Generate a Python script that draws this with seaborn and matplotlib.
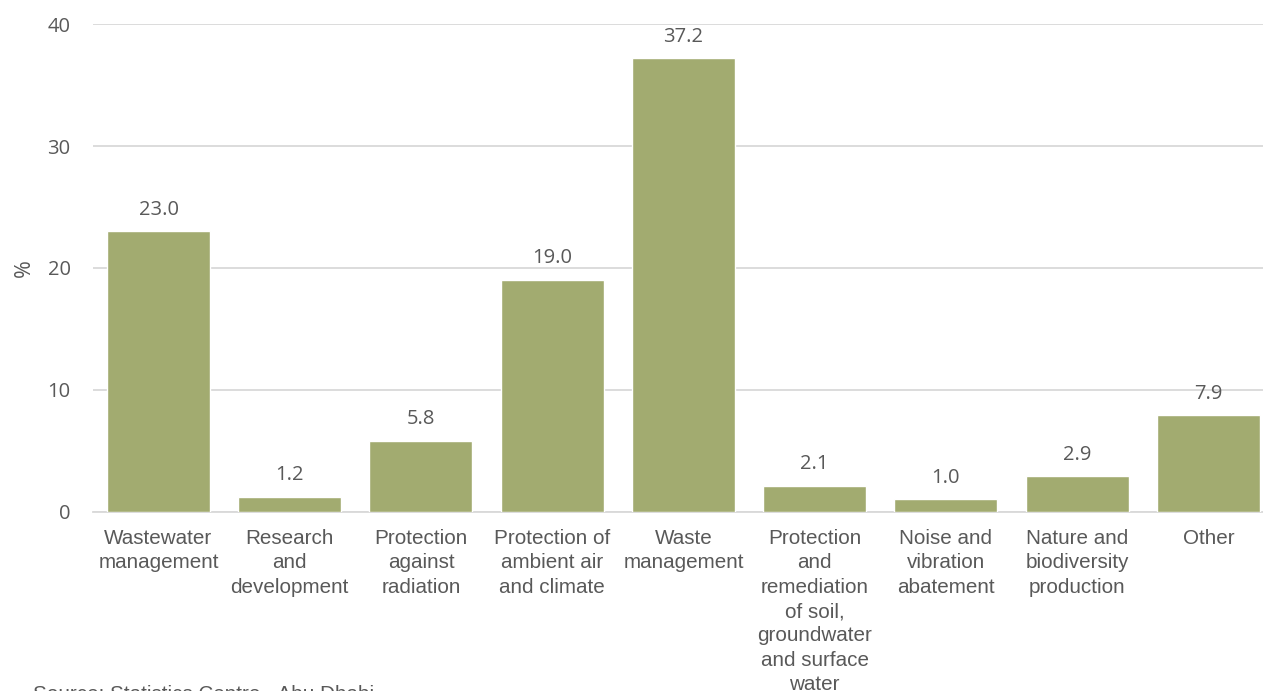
import matplotlib
matplotlib.use("Agg")
import matplotlib.pyplot as plt
import seaborn as sns
import pandas as pd

# Environmental protection expenditure shares by domain (%)
categories = [
    "Wastewater\nmanagement",
    "Research\nand\ndevelopment",
    "Protection\nagainst\nradiation",
    "Protection of\nambient air\nand climate",
    "Waste\nmanagement",
    "Protection\nand\nremediation\nof soil,\ngroundwater\nand surface\nwater",
    "Noise and\nvibration\nabatement",
    "Nature and\nbiodiversity\nproduction",
    "Other",
]
values = [23.0, 1.2, 5.8, 19.0, 37.2, 2.1, 1.0, 2.9, 7.9]
y_ticks = [0, 10, 20, 30, 40]
y_label = "%"
source_note = "Source: Statistics Centre - Abu Dhabi"

BAR_COLOR = "#A2AB70"
TEXT_COLOR = "#595959"
GRID_COLOR = "#D9D9D9"
NUM_FONT = ["Open Sans", "DejaVu Sans"]
CAT_FONT = ["Liberation Sans", "DejaVu Sans"]

sns.set_style("white")
plt.rcParams["font.family"] = CAT_FONT

df = pd.DataFrame({"category": categories, "value": values})

W, H = 1263, 691
fig = plt.figure(figsize=(W / 100, H / 100), dpi=100)
left, right = 92.9, 1274.0
top, bottom = 24.3, 511.5
ax = fig.add_axes([left / W, (H - bottom) / H, (right - left) / W, (bottom - top) / H])

sns.barplot(data=df, x="category", y="value", color=BAR_COLOR, width=0.785,
            saturation=1, ax=ax, zorder=3)

ax.set_ylim(0, 40)
ax.set_xlim(-0.5, len(categories) - 0.5)
ax.set_yticks(y_ticks)
ax.set_yticklabels([str(t) for t in y_ticks], fontfamily=NUM_FONT, fontsize=14.5,
                   color=TEXT_COLOR)
ax.tick_params(axis="y", length=0, pad=16)
ax.tick_params(axis="x", length=0, pad=12.5)
for lbl in ax.get_xticklabels():
    lbl.set_fontsize(14.9)
    lbl.set_color(TEXT_COLOR)
    lbl.set_linespacing(1.36)
    lbl.set_fontfamily(CAT_FONT)

ax.yaxis.grid(True, color=GRID_COLOR, linewidth=1.3, zorder=0)
ax.set_axisbelow(True)
for side in ("top", "right", "left"):
    ax.spines[side].set_visible(False)
ax.spines["bottom"].set_color(GRID_COLOR)
ax.spines["bottom"].set_linewidth(1.3)

ax.set_xlabel("")
ax.set_ylabel(y_label, fontfamily=NUM_FONT, fontsize=15.5, color=TEXT_COLOR, labelpad=9)

# value labels above each bar
for i, v in enumerate(values):
    ax.annotate(f"{v:.1f}", xy=(i, v), xytext=(0, 12), textcoords="offset points",
                ha="center", va="baseline", fontfamily=NUM_FONT, fontsize=14.5,
                color=TEXT_COLOR, zorder=4)

fig.text(33 / W, (H - 699.5) / H, source_note, ha="left", va="baseline",
         fontsize=14.9, color=TEXT_COLOR, fontfamily=CAT_FONT)

fig.savefig("out.png", dpi=100)
